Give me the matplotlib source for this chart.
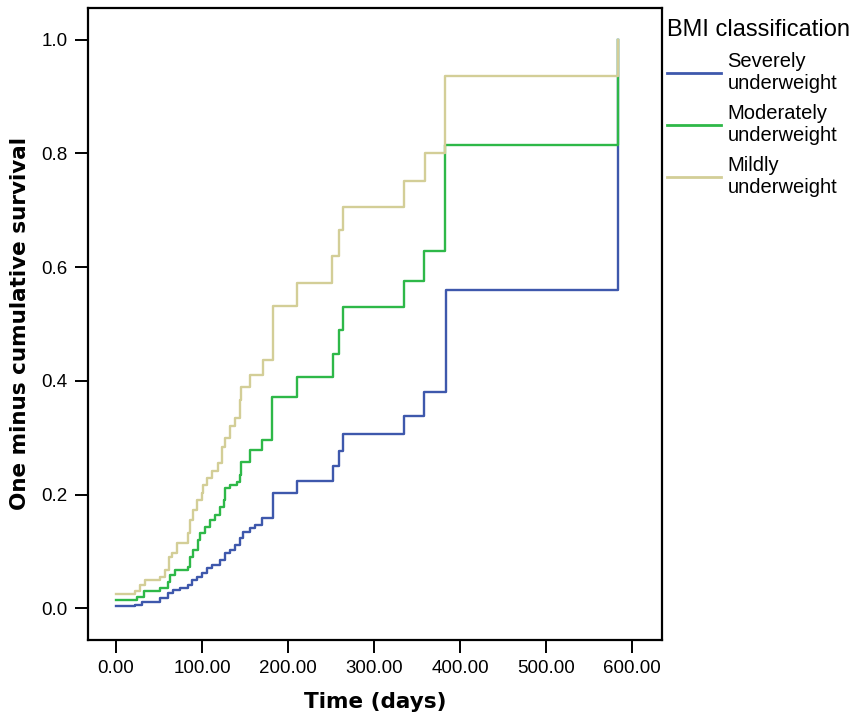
import matplotlib
matplotlib.use("Agg")
import matplotlib.pyplot as plt

# step points (time in days, one minus cumulative survival)
severe_t = [0, 22, 30, 51, 60, 66, 74, 84, 88, 94, 100, 106, 112, 121, 127, 133, 138, 144, 148,
            156, 162, 170, 183, 210, 252, 259, 264, 335, 358, 384, 584]
severe_v = [0.003, 0.006, 0.011, 0.018, 0.026, 0.032, 0.035, 0.040, 0.049, 0.055, 0.062, 0.070,
            0.076, 0.085, 0.097, 0.102, 0.111, 0.123, 0.134, 0.141, 0.147, 0.158, 0.202, 0.224,
            0.250, 0.277, 0.306, 0.338, 0.380, 0.560, 1.0]

moderate_t = [0, 24, 32, 51, 60, 63, 69, 84, 86, 90, 95, 98, 103, 109, 115, 121, 126, 127, 132,
              141, 144, 145, 156, 170, 181, 210, 252, 259, 264, 335, 358, 383, 584]
moderate_v = [0.014, 0.019, 0.030, 0.035, 0.046, 0.058, 0.067, 0.072, 0.090, 0.102, 0.120, 0.132,
              0.143, 0.155, 0.164, 0.178, 0.190, 0.211, 0.217, 0.222, 0.234, 0.257, 0.278, 0.296,
              0.372, 0.407, 0.448, 0.489, 0.530, 0.576, 0.629, 0.815, 1.0]

mild_t = [0, 22, 28, 34, 51, 57, 62, 65, 71, 84, 86, 90, 94, 100, 101, 106, 112, 119, 123, 127,
          133, 138, 144, 145, 156, 171, 183, 210, 251, 259, 264, 335, 359, 383, 584]
mild_v = [0.025, 0.030, 0.040, 0.049, 0.055, 0.067, 0.090, 0.097, 0.114, 0.132, 0.155, 0.172,
          0.190, 0.202, 0.217, 0.229, 0.241, 0.255, 0.283, 0.300, 0.320, 0.334, 0.366, 0.390,
          0.410, 0.437, 0.532, 0.572, 0.620, 0.665, 0.706, 0.752, 0.800, 0.937, 1.0]

labels = ["Severely\nunderweight", "Moderately\nunderweight", "Mildly\nunderweight"]
colors = ["#3E58AC", "#2EB848", "#D3CE97"]

x_ticks = [0, 100, 200, 300, 400, 500, 600]
y_ticks = [0.0, 0.2, 0.4, 0.6, 0.8, 1.0]

plt.rcParams['font.family'] = ['Liberation Sans', 'DejaVu Sans']

fig = plt.figure(figsize=(8.6, 7.2), dpi=100)
ax = fig.add_axes([88 / 860, 1 - 640 / 720, (662 - 88) / 860, (640 - 8) / 720])

series = [(severe_t, severe_v), (moderate_t, moderate_v), (mild_t, mild_v)]
for (t, v), lab, col in zip(series, labels, colors):
    ax.plot(t, v, drawstyle='steps-post', color=col, linewidth=1.7, label=lab)

ax.set_xlim(-32.6, 635)
ax.set_ylim(-0.056, 1.056)
ax.set_xticks(x_ticks)
ax.set_xticklabels(["{0:.2f}".format(x) for x in x_ticks])
ax.set_yticks(y_ticks)
ax.set_yticklabels(["{0:.1f}".format(y) for y in y_ticks])
ax.tick_params(axis='both', direction='out', length=9.5, width=1.4, labelsize=13.5,
               colors='black', pad=5)

for side in ['left', 'right', 'top', 'bottom']:
    ax.spines[side].set_linewidth(1.6)
    ax.spines[side].set_color('black')

ax.set_xlabel('Time (days)', family='DejaVu Sans', fontweight='bold', fontsize=15.5, labelpad=11)
ax.set_ylabel('One minus cumulative survival', family='DejaVu Sans', fontweight='bold',
              fontsize=15.5, labelpad=8)

leg = fig.legend(loc='upper left', bbox_to_anchor=(667 / 860, 1 - 19 / 720), frameon=False,
                 title='BMI classification', title_fontsize=17, fontsize=14.5,
                 handlelength=2.7, handletextpad=0.3, labelspacing=0.55, borderpad=0,
                 borderaxespad=0, alignment='left')
for line in leg.get_lines():
    line.set_linewidth(2)

fig.savefig('out.png', dpi=100, facecolor='white')
